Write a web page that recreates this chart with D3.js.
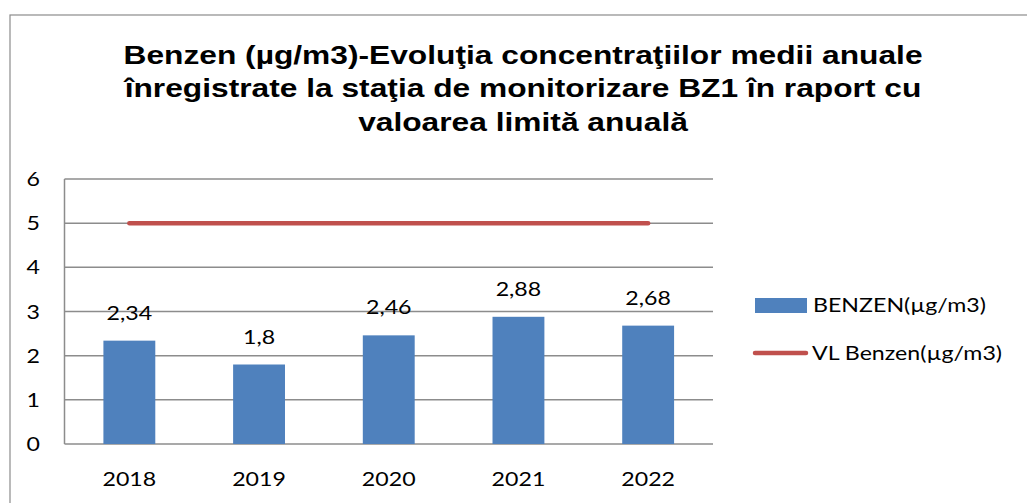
<!DOCTYPE html>
<html><head><meta charset="utf-8">
<script src="https://cdn.jsdelivr.net/npm/d3@7"></script>
<style>body{margin:0;background:#fff}svg{display:block}</style>
</head><body>
<svg id="c" width="1027" height="503"></svg>
<script>
const categories = ["2018","2019","2020","2021","2022"];
const benzenValues = [2.34, 1.8, 2.46, 2.88, 2.68];
const limitValues = [5, 5, 5, 5, 5];
const valueLabels = ["2,34","1,8","2,46","2,88","2,68"];
const yTicks = [0,1,2,3,4,5,6];
const titleLines = ["Benzen (µg/m3)-Evoluţia concentraţiilor medii anuale",
  "înregistrate la staţia de monitorizare BZ1 în raport cu",
  "valoarea limită anuală"];
const seriesNames = ["BENZEN(µg/m3)", "VL Benzen(µg/m3)"];

const svg = d3.select("#c");
const font = "Lato, 'Open Sans', sans-serif";
const SX = 1.22;
const L = 64.5, R = 713, T = 179, B = 444;
const x = d3.scaleBand().domain(categories).range([L, R]).padding(0);
const y = d3.scaleLinear().domain([0, 6]).range([B, T]);
const bw = x.bandwidth() * 0.4;
const tr = (px, py) => `translate(${px},${py}) scale(${SX},1)`;

svg.append("rect").attr("x",10).attr("y",15).attr("width",1100).attr("height",600)
  .attr("fill","none").attr("stroke","#8c8c8c").attr("stroke-width",1.2);

svg.append("g").selectAll("text").data(titleLines).join("text")
  .attr("transform",(d,i)=>tr(523, 63.5+i*33.5)).attr("text-anchor","middle")
  .attr("font-family","'Liberation Sans', Arial, sans-serif").attr("font-weight","bold")
  .attr("font-size",26).attr("fill","#000").text(d=>d);

// gridlines
svg.append("g").selectAll("line").data(yTicks).join("line")
  .attr("x1",L).attr("x2",R).attr("y1",d=>y(d)).attr("y2",d=>y(d))
  .attr("stroke","#8c8c8c").attr("stroke-width",1.5);
svg.append("line").attr("x1",L).attr("x2",L).attr("y1",T).attr("y2",B)
  .attr("stroke","#8c8c8c").attr("stroke-width",1.5);

// y labels
svg.append("g").selectAll("text").data(yTicks).join("text")
  .attr("transform",d=>tr(40, y(d)+7)).attr("text-anchor","end")
  .attr("font-family",font).attr("font-size",19).attr("fill","#000").text(d=>d);

// bars
svg.append("g").selectAll("rect").data(benzenValues).join("rect")
  .attr("x",(d,i)=>x(categories[i])+x.bandwidth()/2-bw/2).attr("width",bw)
  .attr("y",d=>y(d)).attr("height",d=>B-y(d)).attr("fill","#4F81BD");

// value labels
svg.append("g").selectAll("text").data(benzenValues).join("text")
  .attr("transform",(d,i)=>tr(x(categories[i])+x.bandwidth()/2, y(d)-21))
  .attr("text-anchor","middle").attr("font-family",font).attr("font-size",19).attr("fill","#000")
  .text((d,i)=>valueLabels[i]);

// x labels
svg.append("g").selectAll("text").data(categories).join("text")
  .attr("transform",d=>tr(x(d)+x.bandwidth()/2, 486)).attr("text-anchor","middle")
  .attr("font-family",font).attr("font-size",19).attr("fill","#000").text(d=>d);

// limit line
const line = d3.line().x((d,i)=>x(categories[i])+x.bandwidth()/2).y(d=>y(d));
svg.append("path").datum(limitValues).attr("d",line).attr("fill","none")
  .attr("stroke","#C0504D").attr("stroke-width",4.5).attr("stroke-linecap","round");

// legend
svg.append("rect").attr("x",755).attr("y",298).attr("width",52).attr("height",15).attr("fill","#4F81BD");
svg.append("line").attr("x1",755).attr("x2",806).attr("y1",353).attr("y2",353)
  .attr("stroke","#C0504D").attr("stroke-width",4.5).attr("stroke-linecap","round");
svg.append("text").attr("transform",tr(813,312)).attr("font-family",font).attr("font-size",19).text(seriesNames[0]);
svg.append("text").attr("transform",tr(812,360)).attr("font-family",font).attr("font-size",19).text(seriesNames[1]);
</script>
</body></html>
